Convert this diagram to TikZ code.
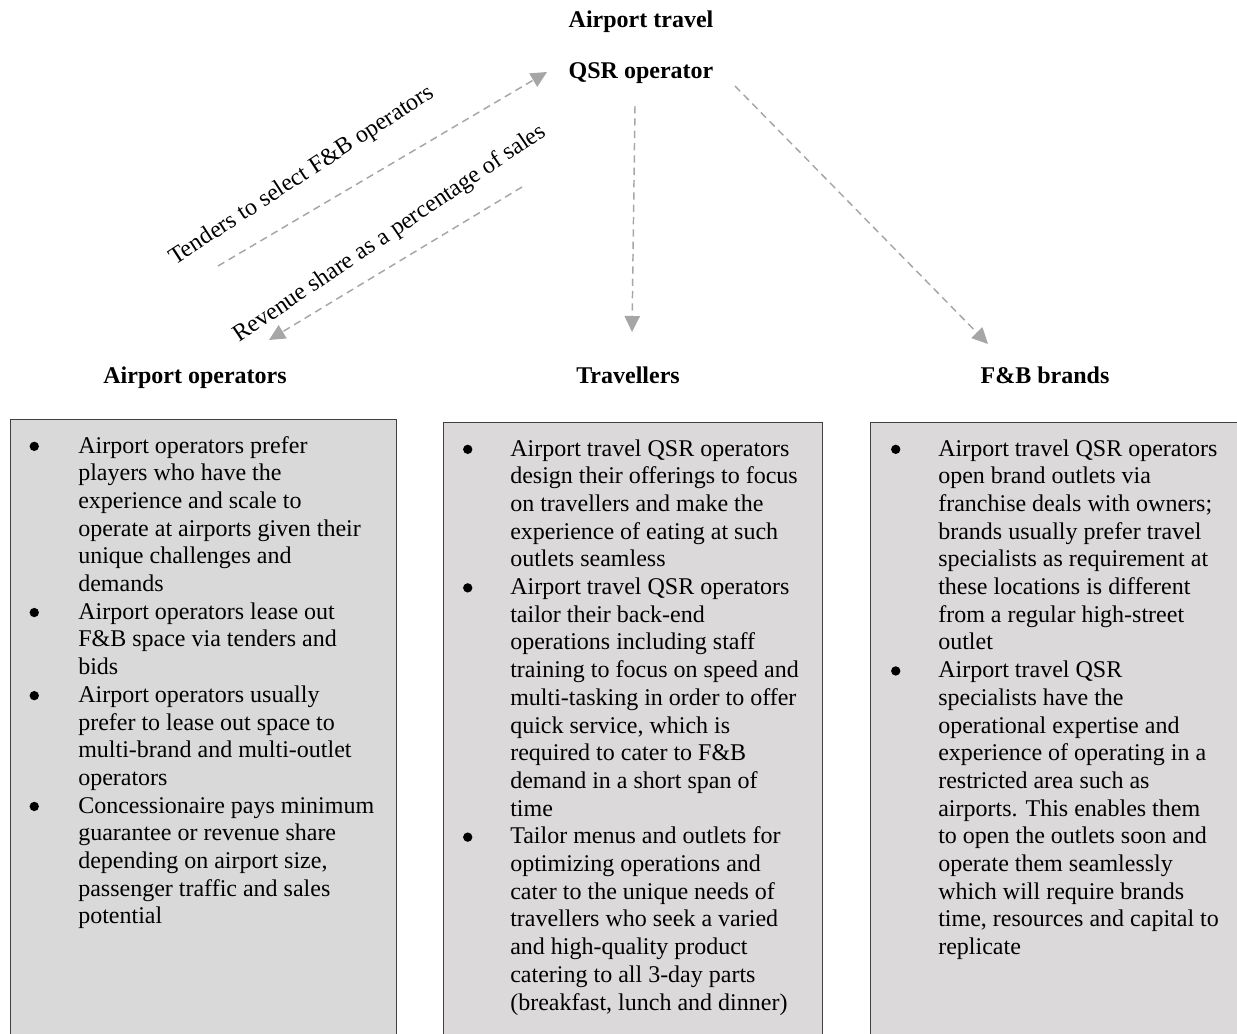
\documentclass[tikz,border=0pt]{standalone}
\usepackage{fontspec}
\setmainfont{Liberation Serif}
\usetikzlibrary{arrows.meta}
\definecolor{arrowgray}{HTML}{A6A6A6}
\definecolor{boxgray}{HTML}{D9D9D9}
\definecolor{boxgrayb}{HTML}{DBD9DA}
\definecolor{edgegray}{HTML}{404040}
\newcommand{\dotb}{\tikz[baseline=0pt]\fill[black] (0pt,5pt) circle[radius=3.5pt];}
\newcommand{\BulL}{\llap{\makebox[36.5pt][l]{\dotb}}}
\newcommand{\BulM}{\llap{\makebox[35.4pt][l]{\dotb}}}
\newcommand{\Lr}[1]{\hbox{#1}}
\begin{document}
\begin{tikzpicture}[x=0.75pt,y=-0.75pt,
  boxshape/.style={fill=boxgray,draw=edgegray,line width=0.75pt},
  boxshapeb/.style={fill=boxgrayb,draw=edgegray,line width=0.75pt},
  heading/.style={font=\bfseries\fontsize{18}{21}\selectfont,inner sep=0pt,anchor=base},
  bodytext/.style={font=\fontsize{18}{20.775}\selectfont,inner sep=0pt,anchor=base west},
  lbl/.style={font=\fontsize{18}{21}\selectfont,inner sep=0pt,anchor=center},
  conn/.style={draw=arrowgray,line width=1.1pt,dash pattern=on 5.5pt off 3.75pt,
    -{Triangle[length=12pt,width=11.5pt]}}]
\useasboundingbox (0,0) rectangle (1237,1033);
% boxes
\path[boxshape] (10,419) rectangle (396,1045);
\path[boxshapeb] (443,422) rectangle (822,1045);
\path[boxshapeb] (870,422) rectangle (1250,1045);
% headings
\node[heading] (top1) at (641,27) {Airport travel};
\node[heading] (top2) at (641,78) {QSR operator};
\node[heading] (hair) at (195,383) {Airport operators};
\node[heading] (htra) at (628,383) {Travellers};
\node[heading] (hfnb) at (1045,383) {F\&B brands};
% connectors
\coordinate (tA) at (218,266); \coordinate (tB) at (547,72);
\coordinate (rA) at (522,187); \coordinate (rB) at (269,340);
\coordinate (dA) at (635,106); \coordinate (dB) at (632,332);
\coordinate (fA) at (735,86);  \coordinate (fB) at (988,344);
\draw[conn] (tA) -- (tB);
\draw[conn] (rA) -- (rB);
\draw[conn] (dA) -- (dB);
\draw[conn] (fA) -- (fB);
\node[lbl,rotate=33] (tlab) at (302,176) {Tenders to select F\&B operators};
\node[lbl,rotate=34] (rlab) at (390,234) {Revenue share as a percentage of sales};
% body texts
\node[bodytext] (bodyL) at (78,453) {\vtop{%
\Lr{\BulL Airport operators prefer}
\Lr{players who have the}
\Lr{experience and scale to}
\Lr{operate at airports given their}
\Lr{unique challenges and}
\Lr{demands}
\Lr{\BulL Airport operators lease out}
\Lr{F\&B space via tenders and}
\Lr{bids}
\Lr{\BulL Airport operators usually}
\Lr{prefer to lease out space to}
\Lr{multi-brand and multi-outlet}
\Lr{operators}
\Lr{\BulL Concessionaire pays minimum}
\Lr{guarantee or revenue share}
\Lr{depending on airport size,}
\Lr{passenger traffic and sales}
\Lr{potential}}};
\node[bodytext] (bodyM) at (510,456) {\vtop{%
\Lr{\BulM Airport travel QSR operators}
\Lr{design their offerings to focus}
\Lr{on travellers and make the}
\Lr{experience of eating at such}
\Lr{outlets seamless}
\Lr{\BulM Airport travel QSR operators}
\Lr{tailor their back-end}
\Lr{operations including staff}
\Lr{training to focus on speed and}
\Lr{multi-tasking in order to offer}
\Lr{quick service, which is}
\Lr{required to cater to F\&B}
\Lr{demand in a short span of}
\Lr{time}
\Lr{\BulM Tailor menus and outlets for}
\Lr{optimizing operations and}
\Lr{cater to the unique needs of}
\Lr{travellers who seek a varied}
\Lr{and high-quality product}
\Lr{catering to all 3-day parts}
\Lr{(breakfast, lunch and dinner)}}};
\node[bodytext] (bodyR) at (938,456) {\vtop{%
\Lr{\BulM Airport travel QSR operators}
\Lr{open brand outlets via}
\Lr{franchise deals with owners;}
\Lr{brands usually prefer travel}
\Lr{specialists as requirement at}
\Lr{these locations is different}
\Lr{from a regular high-street}
\Lr{outlet}
\Lr{\BulM Airport travel QSR}
\Lr{specialists have the}
\Lr{operational expertise and}
\Lr{experience of operating in a}
\Lr{restricted area such as}
\Lr{airports. This enables them}
\Lr{to open the outlets soon and}
\Lr{operate them seamlessly}
\Lr{which will require brands}
\Lr{time, resources and capital to}
\Lr{replicate}}};
\end{tikzpicture}
\end{document}
